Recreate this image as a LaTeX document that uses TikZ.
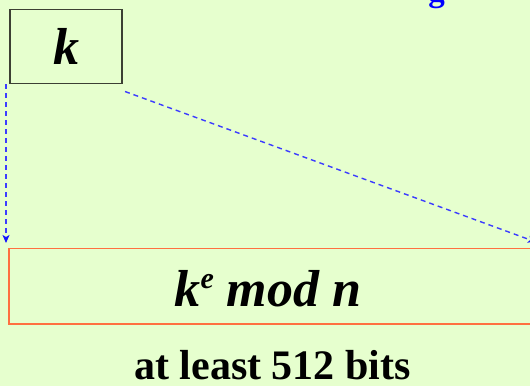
\documentclass[tikz,border=0pt]{standalone}
\usepackage{fontspec}
\setmainfont{Liberation Serif}
\usetikzlibrary{arrows.meta}
\definecolor{bgc}{RGB}{230,255,206}
\definecolor{dashblue}{RGB}{60,60,255}
\definecolor{tipblue}{RGB}{20,20,255}
\definecolor{boxorange}{RGB}{255,112,64}
\definecolor{boxdark}{RGB}{60,64,52}
\tikzset{
  x=1pt,y=1pt,
  keybox/.style={draw=boxdark,line width=1.4pt,minimum width=112pt,minimum height=74pt,inner sep=0pt,
    font=\fontsize{52}{52}\selectfont\bfseries\itshape},
  resbox/.style={draw=boxorange,line width=1.4pt,minimum width=540pt,minimum height=75.5pt,inner sep=0pt},
  bigtext/.style={inner sep=0pt,font=\fontsize{52}{52}\selectfont\bfseries\itshape},
  captext/.style={inner sep=0pt,font=\fontsize{42}{42}\selectfont\bfseries},
  bluefrag/.style={inner sep=0pt,text=blue,font=\fontsize{33}{33}\selectfont\bfseries},
  dashconn/.style={draw=dashblue,line width=1.4pt,dash pattern=on 5pt off 4pt,
    -{Stealth[length=8pt,width=7pt,color=tipblue,inset=2pt]}}
}
\begin{document}
\begin{tikzpicture}
\useasboundingbox (0,0) rectangle (530,-386);
\fill[bgc] (0,0) rectangle (530,-386);
\clip (0,0) rectangle (530,-386);
\node[bluefrag,anchor=base] (frag) at (436.5,-1) {g};
\node[keybox] (k) at (66,-46.3) {k};
\node[resbox] (res) at (279,-286.2) {};
\node[bigtext,anchor=base] (kemod) at (268,-306) {k\raisebox{18pt}{\fontsize{30}{30}\selectfont e} mod n};
\node[captext,anchor=base] (cap) at (272.5,-379) {at least 512 bits};
\coordinate (ktop) at (6,-84);
\coordinate (kdown) at (6,-243);
\coordinate (rstart) at (125,-91.5);
\coordinate (rend) at (536,-242);
\draw[dashconn] (ktop) -- (kdown);
\draw[dashconn] (rstart) -- (rend);
\end{tikzpicture}
\end{document}
